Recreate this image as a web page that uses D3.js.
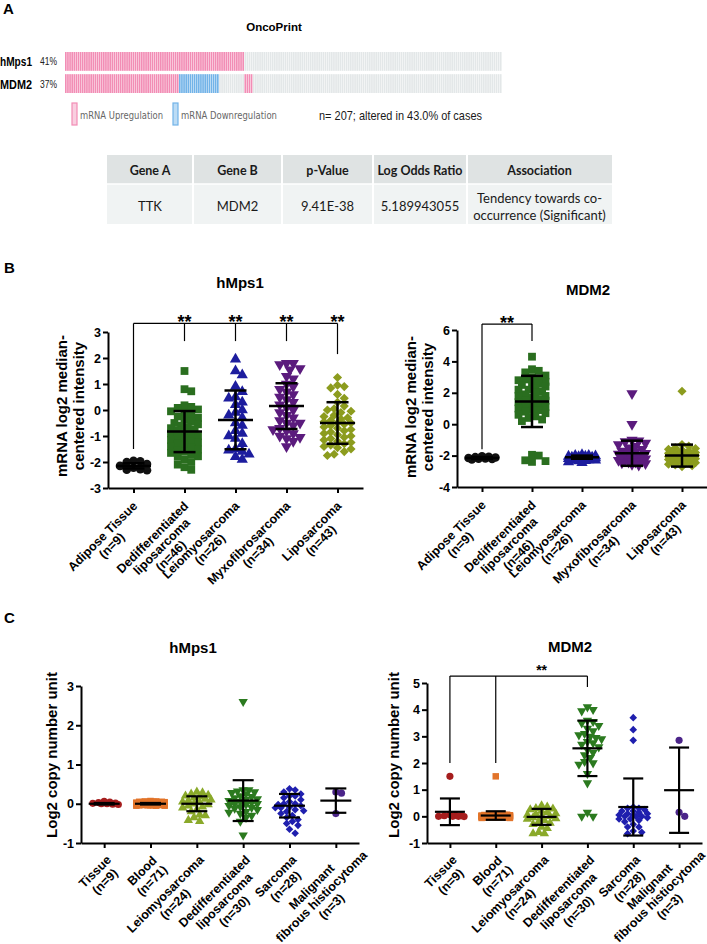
<!DOCTYPE html>
<html>
<head>
<meta charset="utf-8">
<script src="https://cdn.jsdelivr.net/npm/d3@7"></script>
<style>
  body { margin: 0; background: #fff; }
  svg { display: block; font-family: "Liberation Sans", Arial, sans-serif; }
  .axis path, .axis line { stroke: #000; stroke-width: 2; }
  .axis text { font-size: 12.5px; font-weight: bold; fill: #000; font-family: "Liberation Sans", Arial, sans-serif; }
</style>
</head>
<body>
<svg id="fig" width="707" height="944"></svg>
<script>
// ---------- A: oncoprint ----------
var onco_genes = ["hMps1", "MDM2"];
var onco_pct = ["41%", "37%"];
var onco_n = 207;
// runs of samples, left to right: [state, count]
var onco_hmps1 = [["up", 85], ["none", 122]];
var onco_mdm2 = [["up", 54], ["down", 19], ["none", 12], ["up", 4], ["none", 118]];
var onco_note = "n= 207; altered in 43.0% of cases";

var tbl_head = ["Gene A", "Gene B", "p-Value", "Log Odds Ratio", "Association"];
var tbl_row = [["TTK"], ["MDM2"], ["9.41E-38"], ["5.189943055"], ["Tendency towards co-", "occurrence (Significant)"]];

// ---------- B: mRNA expression ----------
var b_cats = [["Adipose Tissue", "(n=9)"], ["Dedifferentiated", "liposarcoma", "(n=46)"],
  ["Leiomyosarcoma", "(n=26)"], ["Myxofibrosarcoma", "(n=34)"], ["Liposarcoma", "(n=43)"]];
var b1_ticks = [-3, -2, -1, 0, 1, 2, 3];
var b2_ticks = [-4, -2, 0, 2, 4, 6];

var b1_adipose = [-1.95, -2.0, -1.97, -2.08, -2.15, -2.22, -2.3, -2.32, -2.28];
var b1_dediff = [1.5, 0.8, 0.72, 0.18, 0.12, 0.08, 0.02, -0.05, -0.1, -0.18, -0.25, -0.3, -0.38, -0.45, -0.5, -0.55,
  -0.6, -0.66, -0.7, -0.75, -0.8, -0.85, -0.9, -0.95, -1.0, -1.02, -1.1, -1.15, -1.2, -1.25, -1.3, -1.35, -1.4,
  -1.45, -1.52, -1.55, -1.6, -1.65, -1.7, -1.78, -1.8, -1.9, -2.0, -2.1, -2.2, -2.3];
var b1_leio = [1.95, 1.5, 1.35, 0.9, 0.7, 0.5, 0.45, 0.3, 0.2, 0.0, -0.1, -0.2, -0.3, -0.5, -0.6, -0.8, -0.9, -1.0,
  -1.1, -1.3, -1.5, -1.55, -1.6, -1.7, -1.8, -1.9];
var b1_myxo = [1.8, 1.8, 1.75, 1.6, 1.55, 1.3, 1.2, 1.0, 0.9, 0.8, 0.7, 0.6, 0.5, 0.4, 0.3, 0.2, 0.1, 0.0, -0.1,
  -0.2, -0.3, -0.4, -0.5, -0.5, -0.6, -0.7, -0.75, -0.8, -0.9, -1.0, -1.05, -1.1, -1.2, -1.4];
var b1_lipo = [1.25, 0.95, 0.9, 0.85, 0.6, 0.45, 0.3, 0.15, 0.05, 0.0, -0.05, -0.1, -0.2, -0.25, -0.3, -0.35, -0.4,
  -0.45, -0.5, -0.5, -0.55, -0.6, -0.65, -0.7, -0.75, -0.8, -0.85, -0.9, -0.95, -1.0, -1.05, -1.1, -1.15, -1.2,
  -1.25, -1.3, -1.35, -1.4, -1.45, -1.5, -1.6, -1.7, -1.75];
var b1_mean = [-2.15, -0.83, -0.38, 0.15, -0.5];
var b1_sd = [0.1, 0.79, 1.13, 0.88, 0.8];

var b2_adipose = [-2.05, -2.08, -2.1, -2.12, -2.15, -2.18, -2.2, -2.22, -2.25];
var b2_dediff = [4.3, 3.5, 3.4, 3.3, 3.1, 3.0, 2.9, 2.85, 2.8, 2.7, 2.6, 2.6, 2.5, 2.4, 2.3, 2.2, 2.2, 2.1, 2.0, 1.9,
  1.8, 1.8, 1.7, 1.6, 1.5, 1.5, 1.4, 1.3, 1.2, 1.2, 1.1, 1.0, 0.9, 0.9, 0.8, 0.7, 0.6, 0.5, 0.4, 0.3, 0.2,
  -1.95, -2.0, -2.3, -2.35, -2.4];
var b2_leio = [-1.95, -2.0, -2.0, -2.02, -2.05, -2.05, -2.08, -2.1, -2.1, -2.1, -2.12, -2.15, -2.15, -2.18, -2.2,
  -2.2, -2.22, -2.25, -2.25, -2.28, -2.3, -2.3, -2.32, -2.35, -2.4, -2.45];
var b2_myxo = [1.95, 0.0, -1.0, -1.05, -1.1, -1.2, -1.3, -1.4, -1.5, -1.6, -1.7, -1.75, -1.8, -1.85, -1.9, -1.95,
  -2.0, -2.0, -2.05, -2.1, -2.1, -2.15, -2.2, -2.2, -2.25, -2.3, -2.3, -2.35, -2.4, -2.4, -2.45, -2.5, -2.55, -2.6];
var b2_lipo = [2.1, -1.3, -1.4, -1.5, -1.55, -1.6, -1.65, -1.7, -1.75, -1.8, -1.8, -1.85, -1.85, -1.9, -1.9, -1.95,
  -1.95, -2.0, -2.0, -2.0, -2.05, -2.05, -2.1, -2.1, -2.1, -2.15, -2.15, -2.2, -2.2, -2.25, -2.25, -2.3, -2.3,
  -2.35, -2.35, -2.4, -2.4, -2.45, -2.5, -2.55, -2.6, -2.65, -2.7];
var b2_mean = [-2.15, 1.45, -2.1, -1.85, -2.0];
var b2_sd = [0.06, 1.63, 0.1, 0.8, 0.7];

// ---------- C: copy number ----------
var c_cats = [["Tissue", "(n=9)"], ["Blood", "(n=71)"], ["Leiomyosarcoma", "(n=24)"],
  ["Dedifferentiated", "liposarcoma", "(n=30)"], ["Sarcoma", "(n=28)"], ["Malignant", "fibrous histiocytoma", "(n=3)"]];
var c1_ticks = [-1, 0, 1, 2, 3];
var c2_ticks = [-1, 0, 1, 2, 3, 4, 5];

var c1_tissue = [0.06, 0.04, 0.03, 0.02, 0.0, 0.0, -0.01, -0.02, 0.01];
var c1_blood = [0.07, 0.06, 0.06, 0.05, 0.05, 0.05, 0.04, 0.04, 0.04, 0.04,
  0.03, 0.03, 0.03, 0.03, 0.03, 0.02, 0.02, 0.02, 0.02, 0.02,
  0.02, 0.01, 0.01, 0.01, 0.01, 0.01, 0.01, 0.01, 0.0, 0.0,
  0.0, 0.0, 0.0, 0.0, 0.0, 0.0, 0.0, 0.0, 0.0, 0.0,
  -0.01, -0.01, -0.01, -0.01, -0.01, -0.01, -0.01, -0.02, -0.02, -0.02,
  -0.02, -0.02, -0.02, -0.03, -0.03, -0.03, -0.03, -0.03, -0.04, -0.04,
  -0.04, -0.04, -0.05, -0.05, -0.05, 0.0, 0.01, 0.02, -0.01, 0.0, 0.03];
var c1_leio = [0.3, 0.28, 0.25, 0.22, 0.2, 0.18, 0.15, 0.12, 0.1, 0.08, 0.05, 0.03, 0.0, -0.02, -0.05, -0.08, -0.1,
  -0.15, -0.2, -0.28, -0.3, -0.35, -0.42, -0.45];
var c1_dediff = [2.6, 0.35, 0.35, 0.32, 0.3, 0.28, 0.25, 0.2, 0.18, 0.15, 0.12, 0.1, 0.08, 0.05, 0.03, 0.0, 0.0,
  -0.02, -0.05, -0.08, -0.1, -0.12, -0.15, -0.2, -0.22, -0.25, -0.3, -0.35, -0.45, -0.8];
var c1_sarc = [0.38, 0.35, 0.3, 0.25, 0.2, 0.2, 0.15, 0.1, 0.05, 0.0, 0.0, -0.02, -0.05, -0.08, -0.1, -0.1, -0.15,
  -0.18, -0.2, -0.25, -0.3, -0.35, -0.4, -0.45, -0.5, -0.55, -0.65, -0.75];
var c1_mfh = [0.3, 0.27, -0.25];
var c1_mean = [0.0, 0.0, 0.0, 0.08, -0.05, 0.08];
var c1_sd = [0.02, 0.02, 0.19, 0.52, 0.3, 0.31];

var c2_tissue = [1.5, 0.06, 0.04, 0.02, 0.0, 0.0, 0.0, -0.01, 0.02];
var c2_blood = [1.5, 0.08, 0.07, 0.06, 0.06, 0.05, 0.05, 0.05, 0.04, 0.04,
  0.04, 0.03, 0.03, 0.03, 0.03, 0.03, 0.02, 0.02, 0.02, 0.02,
  0.02, 0.02, 0.01, 0.01, 0.01, 0.01, 0.01, 0.01, 0.01, 0.0,
  0.0, 0.0, 0.0, 0.0, 0.0, 0.0, 0.0, 0.0, 0.0, 0.0,
  -0.01, -0.01, -0.01, -0.01, -0.01, -0.01, -0.02, -0.02, -0.02, -0.02,
  -0.02, -0.03, -0.03, -0.03, -0.03, -0.04, -0.04, -0.04, -0.05, -0.05,
  -0.06, -0.06, 0.0, 0.01, 0.02, -0.01, 0.0, 0.03, 0.0, -0.02, 0.01];
var c2_leio = [0.4, 0.35, 0.3, 0.28, 0.25, 0.2, 0.15, 0.1, 0.08, 0.05, 0.0, 0.0, -0.05, -0.08, -0.1, -0.15, -0.2,
  -0.25, -0.3, -0.4, -0.45, -0.6, -0.65, -0.65];
var c2_dediff = [4.1, 4.0, 3.95, 3.6, 3.55, 3.5, 3.4, 3.3, 3.2, 3.1, 3.05, 3.0, 2.95, 2.9, 2.8, 2.75, 2.7, 2.6, 2.5,
  2.4, 2.3, 2.2, 2.05, 2.0, 1.95, 1.6, 1.25, 0.15, 0.0, 0.0];
var c2_sarc = [3.7, 3.25, 2.85, 0.35, 0.3, 0.3, 0.25, 0.2, 0.2, 0.15, 0.1, 0.1, 0.05, 0.05, 0.0, 0.0, 0.0, -0.05,
  -0.1, -0.1, -0.15, -0.2, -0.3, -0.4, -0.4, -0.55, -0.6, -0.65];
var c2_mfh = [2.85, 0.15, 0.0];
var c2_mean = [0.17, 0.03, -0.02, 2.55, 0.35, 0.98];
var c2_sd = [0.5, 0.16, 0.3, 1.04, 1.07, 1.6];

var svg = d3.select("#fig");
var W = 707, H = 944;

function panelLetter(t, x, y) {
  svg.append("text").attr("x", x).attr("y", y).attr("font-size", 15).attr("font-weight", "bold").text(t);
}
panelLetter("A", 3, 14);
panelLetter("B", 4, 273);
panelLetter("C", 4, 623);

// ---------- oncoprint ----------
svg.append("text").attr("x", 274).attr("y", 31).attr("text-anchor", "middle")
  .attr("font-size", 11.5).attr("font-weight", "bold").text("OncoPrint");

var ox = d3.scaleLinear().domain([0, onco_n]).range([65, 502]);
var oy = d3.scaleBand().domain(onco_genes).range([52, 93]).paddingInner(0.15);
var stateColor = { up: "#f28db5", down: "#72b3e8", none: "#e3e7e8" };

[onco_hmps1, onco_mdm2].forEach(function (runs, r) {
  var samples = [];
  runs.forEach(function (run) { for (var k = 0; k < run[1]; k++) samples.push(run[0]); });
  svg.append("g").selectAll("rect").data(samples).join("rect")
    .attr("x", (d, i) => ox(i))
    .attr("y", oy(onco_genes[r]))
    .attr("width", ox(1) - ox(0) - 0.45)
    .attr("height", oy.bandwidth())
    .attr("fill", d => stateColor[d]);
  var cy = oy(onco_genes[r]) + oy.bandwidth() / 2;
  svg.append("text").attr("x", 0).attr("y", cy + 5).attr("font-size", 13).attr("font-weight", "bold")
    .attr("textLength", 32).attr("lengthAdjust", "spacingAndGlyphs").text(onco_genes[r]);
  svg.append("text").attr("x", 40).attr("y", cy + 4).attr("font-size", 11).attr("fill", "#222")
    .attr("textLength", 17).attr("lengthAdjust", "spacingAndGlyphs").text(onco_pct[r]);
});

// legend
[["up", "mRNA Upregulation", 72, 83], ["down", "mRNA Downregulation", 173, 96]].forEach(function (l) {
  svg.append("rect").attr("x", l[2]).attr("y", 103).attr("width", 5).attr("height", 22)
    .attr("fill", l[0] == "up" ? "#f9cfe0" : "#bcdcf5").attr("stroke", stateColor[l[0]]).attr("stroke-width", 1.2);
  svg.append("text").attr("x", l[2] + 8).attr("y", 119).attr("font-size", 10).attr("fill", "#666")
    .attr("font-family", "DejaVu Sans").attr("textLength", l[3]).attr("lengthAdjust", "spacingAndGlyphs").text(l[1]);
});
svg.append("text").attr("x", 319).attr("y", 120).attr("font-size", 13.5).attr("fill", "#1a1a1a")
  .attr("textLength", 163).attr("lengthAdjust", "spacingAndGlyphs").text(onco_note);

// ---------- table ----------
var colW = [86, 89, 91, 94, 145];
var colX = Array.from(d3.cumsum([0].concat(colW))).map(v => 107 + v);
var tbl = svg.append("g").attr("font-family", "Lato, 'Open Sans', sans-serif").attr("fill", "#1a1a1a");
colW.forEach(function (w, i) {
  tbl.append("rect").attr("x", colX[i]).attr("y", 155).attr("width", w).attr("height", 29).attr("fill", "#dfe3e3");
  tbl.append("rect").attr("x", colX[i]).attr("y", 184).attr("width", w).attr("height", 40).attr("fill", "#f0f3f3");
  tbl.append("text").attr("x", colX[i] + w / 2).attr("y", 175).attr("text-anchor", "middle")
    .attr("font-size", 12.5).attr("font-weight", "bold").text(tbl_head[i]);
  var lines = tbl_row[i];
  tbl.append("text").attr("text-anchor", "middle").attr("font-size", 13)
    .selectAll("tspan").data(lines).join("tspan")
    .attr("x", colX[i] + w / 2)
    .attr("y", (d, k) => 211 - (lines.length - 1) * 8.5 + k * 17)
    .text(d => d);
});
tbl.selectAll("line.sep").data(colX.slice(1, -1)).join("line")
  .attr("x1", d => d).attr("x2", d => d).attr("y1", 155).attr("y2", 224)
  .attr("stroke", "#fff").attr("stroke-width", 2);
tbl.append("line").attr("x1", 107).attr("x2", 612).attr("y1", 184).attr("y2", 184)
  .attr("stroke", "#fff").attr("stroke-width", 1.5);

// ---------- scatter panels ----------
var symbols = {
  circle: [d3.symbolCircle, 0], square: [d3.symbolSquare, 0], tri: [d3.symbolTriangle, 0],
  tridown: [d3.symbolTriangle, 180], diamond: [d3.symbolSquare, 45]
};
var shapeSize = { circle: 1.0, square: 1.05, tri: 0.95, tridown: 0.95, diamond: 0.72 };
var R2 = Math.SQRT1_2;

// simple deterministic beeswarm: nearest free horizontal slot
function swarm(vals, y, d, half) {
  var pts = vals.slice().sort(d3.descending).map(v => ({ v: v, y: y(v), dx: 0 }));
  var step = d * 0.45, cands = [0], placed = [];
  for (var k = 1; k * step <= half; k++) cands.push(k * step, -k * step);
  pts.forEach(function (p) {
    var best = 0, bestD = -1;
    for (var c of cands) {
      var m = Infinity;
      placed.forEach(q => { var dd = Math.hypot(c - q.dx, p.y - q.y); if (dd < m) m = dd; });
      if (m >= d * 0.9) { best = c; break; }
      if (m > bestD) { bestD = m; best = c; }
    }
    p.dx = best;
    placed.push(p);
  });
  return pts;
}

function scatterPanel(o) {
  var g = svg.append("g");
  var x = d3.scalePoint().domain(d3.range(o.cats.length)).range([o.x0, o.x1]).padding(0.5);
  var y = d3.scaleLinear().domain(o.domain).range([o.yb, o.yt]);

  o.values.forEach(function (vals, i) {
    var s = symbols[o.shapes[i]];
    var path = d3.symbol(s[0], o.size * shapeSize[o.shapes[i]])();
    g.append("g").selectAll("path").data(swarm(vals, y, o.dot, o.half)).join("path")
      .attr("d", path)
      .attr("transform", p => "translate(" + (x(i) + p.dx) + "," + p.y + ") rotate(" + s[1] + ")")
      .attr("fill", o.colors[i]);
  });

  // mean and SD
  var eb = g.append("g").attr("stroke", "#000").attr("stroke-width", o.lw);
  o.mean.forEach(function (m, i) {
    var cx = x(i);
    eb.append("line").attr("x1", cx - o.meanW / 2).attr("x2", cx + o.meanW / 2).attr("y1", y(m)).attr("y2", y(m));
    eb.append("line").attr("x1", cx).attr("x2", cx).attr("y1", y(m - o.sd[i])).attr("y2", y(m + o.sd[i]));
    [m - o.sd[i], m + o.sd[i]].forEach(function (v) {
      eb.append("line").attr("x1", cx - o.capW / 2).attr("x2", cx + o.capW / 2).attr("y1", y(v)).attr("y2", y(v));
    });
  });

  g.append("g").attr("class", "axis").attr("transform", "translate(" + o.x0 + ",0)")
    .call(d3.axisLeft(y).tickValues(o.ticks).tickSize(5).tickSizeOuter(0).tickPadding(2).tickFormat(d => String(d)));
  g.append("g").attr("class", "axis").attr("transform", "translate(0," + o.yb + ")")
    .call(d3.axisBottom(x).tickSize(5).tickSizeOuter(0).tickFormat(""));

  // rotated category labels: lines centred on each other, right end of the widest line near the tick.
  // A block whose baselines would leave the figure is moved up (and right, as far as room allows).
  o.cats.forEach(function (lines, i) {
    var outer = g.append("g");
    var lg = outer.append("g").attr("transform", "translate(" + x(i) + "," + o.yb + ") rotate(-45)");
    var t = lg.append("text").attr("font-size", 12.5).attr("font-weight", "bold").attr("text-anchor", "middle");
    var ts = t.selectAll("tspan").data(lines).join("tspan")
      .attr("y", (d, k) => o.lab.v + k * o.lab.lh).text(d => d);
    var ws = ts.nodes().map(n => n.getComputedTextLength());
    var w = d3.max(ws), cu = o.lab.u - w / 2;
    ts.attr("x", cu);
    var bottom = -Infinity, right = -Infinity;
    ws.forEach(function (wk, k) {
      var v = o.lab.v + k * o.lab.lh, ul = cu - wk / 2, ur = cu + wk / 2;
      bottom = Math.max(bottom, o.yb + R2 * (v - ul));
      right = Math.max(right, x(i) + R2 * (ur + v));
    });
    var ty = -Math.max(0, bottom - (H - 1));
    var tx = Math.min(-ty, (W - 1) - right);
    if (ty || tx < 0) outer.attr("transform", "translate(" + tx + "," + ty + ")");
  });

  // title
  g.append("text").attr("x", o.titleX).attr("y", o.titleY).attr("text-anchor", "middle")
    .attr("font-size", 15).attr("font-weight", "bold").text(o.title);

  // y title
  g.append("text").attr("transform", "translate(" + o.ytX + "," + o.ytY + ") rotate(-90)")
    .attr("text-anchor", "middle").attr("font-size", 15).attr("font-weight", "bold")
    .selectAll("tspan").data(o.ytitle).join("tspan").attr("x", 0).attr("y", (d, k) => k * 16.5).text(d => d);

  // significance bracket
  if (o.sig) {
    var sg = g.append("g").attr("stroke", "#000").attr("stroke-width", 1.2).attr("fill", "none");
    var ytop = y(o.sig.top);
    sg.append("line").attr("x1", x(o.sig.legs[0][0])).attr("x2", x(o.sig.legs[o.sig.legs.length - 1][0]))
      .attr("y1", ytop).attr("y2", ytop);
    o.sig.legs.forEach(function (l) {
      sg.append("line").attr("x1", x(l[0])).attr("x2", x(l[0])).attr("y1", ytop).attr("y2", y(l[1]));
    });
    o.sig.stars.forEach(function (sx) {
      g.append("text").attr("x", x(sx[0]) + (x(sx[1]) - x(sx[0])) / 2).attr("y", ytop + o.sig.dy)
        .attr("text-anchor", "middle").attr("font-size", o.sig.fs).attr("font-weight", "bold").text("**");
    });
  }
}

var bShapes = ["circle", "square", "tri", "tridown", "diamond"];
var bColors = ["#111111", "#2a6e1f", "#1d1d9e", "#5b1b7d", "#8c9c1e"];
var cShapes = ["circle", "square", "tri", "tridown", "diamond", "circle"];
var cColors = ["#a51d1d", "#e2742a", "#8aa92a", "#2b7a1f", "#1f1fae", "#4b2489"];

scatterPanel({
  cats: b_cats, values: [b1_adipose, b1_dediff, b1_leio, b1_myxo, b1_lipo], mean: b1_mean, sd: b1_sd,
  ticks: b1_ticks, domain: [-3, 3], x0: 108, x1: 363, yt: 332, yb: 488,
  shapes: bShapes, colors: bColors, size: 58, dot: 7.5, half: 16, meanW: 35, capW: 22, lw: 2.5,
  lab: { u: -10, v: 16.5, lh: 13 },
  title: "hMps1", titleX: 240, titleY: 288,
  ytitle: ["mRNA log2 median-", "centered intensity"], ytX: 67, ytY: 406,
  sig: { top: 3.33, legs: [[0, -1.5], [1, 2.65], [2, 2.65], [3, 2.65], [4, 2.15]],
    stars: [[1, 1], [2, 2], [3, 3], [4, 4]], dy: 5, fs: 18 }
});
scatterPanel({
  cats: b_cats, values: [b2_adipose, b2_dediff, b2_leio, b2_myxo, b2_lipo], mean: b2_mean, sd: b2_sd,
  ticks: b2_ticks, domain: [-4, 6], x0: 457, x1: 707, yt: 330, yb: 487,
  shapes: bShapes, colors: bColors, size: 58, dot: 7.5, half: 16, meanW: 34, capW: 22, lw: 2.5,
  lab: { u: -10, v: 16.5, lh: 13 },
  title: "MDM2", titleX: 588, titleY: 295,
  ytitle: ["mRNA log2 median-", "centered intensity"], ytX: 416, ytY: 407,
  sig: { top: 6.38, legs: [[0, -1.6], [1, 5.3]], stars: [[0, 1]], dy: 5, fs: 18 }
});
scatterPanel({
  cats: c_cats, values: [c1_tissue, c1_blood, c1_leio, c1_dediff, c1_sarc, c1_mfh], mean: c1_mean, sd: c1_sd,
  ticks: c1_ticks, domain: [-1, 3], x0: 81, x1: 359, yt: 686, yb: 843,
  shapes: cShapes, colors: cColors, size: 40, dot: 6.3, half: 15, meanW: 31, capW: 21, lw: 2.2,
  lab: { u: -7, v: 18, lh: 14 },
  title: "hMps1", titleX: 193, titleY: 653,
  ytitle: ["Log2 copy number unit"], ytX: 57, ytY: 755
});
scatterPanel({
  cats: c_cats, values: [c2_tissue, c2_blood, c2_leio, c2_dediff, c2_sarc, c2_mfh], mean: c2_mean, sd: c2_sd,
  ticks: c2_ticks, domain: [-1, 5], x0: 427, x1: 702, yt: 683, yb: 843,
  shapes: cShapes, colors: cColors, size: 40, dot: 6.3, half: 15, meanW: 30, capW: 20, lw: 2.2,
  lab: { u: -7, v: 18, lh: 14 },
  title: "MDM2", titleX: 570, titleY: 652,
  ytitle: ["Log2 copy number unit"], ytX: 399, ytY: 755,
  sig: { top: 5.26, legs: [[0, 2.0], [1, 2.0], [3, 4.85]], stars: [[1, 3]], dy: -1, fs: 14 }
});
</script>
</body>
</html>
